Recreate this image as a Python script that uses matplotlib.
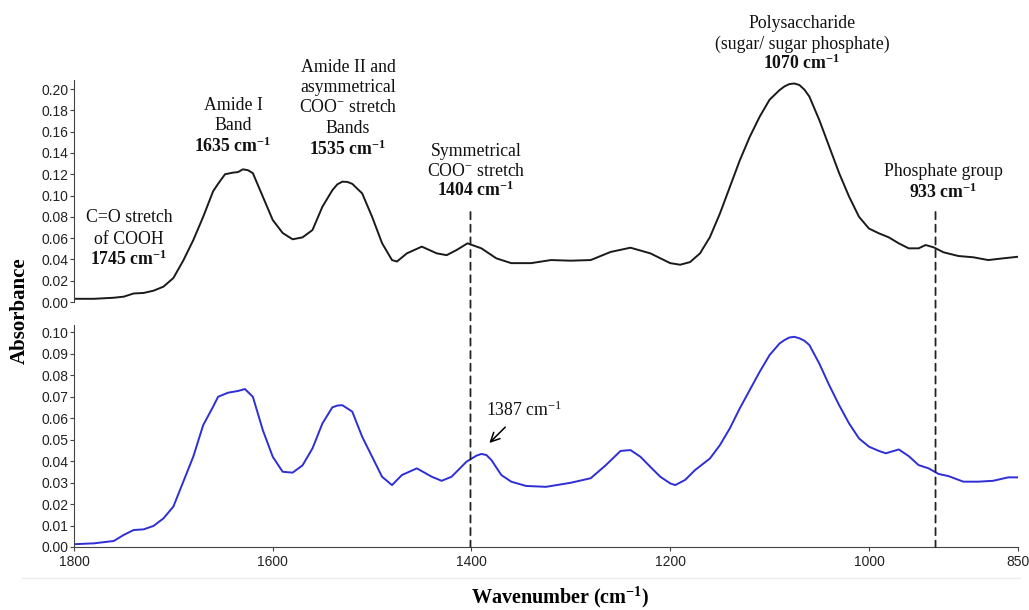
import numpy as np
import matplotlib.pyplot as plt
from matplotlib.patches import ConnectionPatch
from matplotlib.lines import Line2D

plt.rcParams['mathtext.fontset'] = 'custom'
plt.rcParams['mathtext.rm'] = 'Liberation Serif'
plt.rcParams['mathtext.it'] = 'Liberation Serif:italic'
plt.rcParams['mathtext.bf'] = 'Liberation Serif:bold'

# Spektrum oben (schwarz)
top_wn = [1800, 1780, 1760, 1750, 1740, 1730, 1720, 1710, 1700, 1690, 1680, 1670,
          1660, 1655, 1648, 1640, 1635, 1630, 1625, 1620, 1610, 1600, 1590, 1580,
          1570, 1560, 1550, 1540, 1535, 1530, 1525, 1520, 1510, 1500, 1490, 1480,
          1475, 1465, 1450, 1435, 1425, 1415, 1404, 1390, 1375, 1360, 1340, 1320,
          1300, 1280, 1260, 1240, 1220, 1200, 1190, 1180, 1170, 1160, 1150, 1140,
          1130, 1120, 1110, 1100, 1090, 1085, 1080, 1075, 1070, 1065, 1060, 1050,
          1040, 1030, 1020, 1010, 1000, 990, 980, 970, 960, 950, 943, 935, 925,
          910, 895, 880, 865, 850]
top_abs = [0.003, 0.003, 0.004, 0.005, 0.008, 0.0085, 0.0106, 0.0144, 0.0225, 0.039,
           0.058, 0.080, 0.104, 0.111, 0.120, 0.1215, 0.122, 0.1246, 0.1238, 0.121,
           0.099, 0.077, 0.0648, 0.0589, 0.0607, 0.0676, 0.0895, 0.105, 0.1105, 0.113,
           0.1128, 0.111, 0.102, 0.080, 0.0553, 0.0394, 0.038, 0.0457, 0.052, 0.0457,
           0.044, 0.0488, 0.0551, 0.0504, 0.041, 0.0365, 0.0365, 0.0394, 0.0388,
           0.0394, 0.047, 0.051, 0.0457, 0.0365, 0.035, 0.0375, 0.0457, 0.061, 0.083,
           0.108, 0.133, 0.155, 0.174, 0.190, 0.199, 0.2025, 0.2047, 0.2052, 0.2038,
           0.1995, 0.193, 0.171, 0.146, 0.121, 0.099, 0.080, 0.069, 0.0645, 0.0607,
           0.0551, 0.0504, 0.0504, 0.0535, 0.0514, 0.0467, 0.0432, 0.042, 0.0394,
           0.041, 0.0425]

# Spektrum unten (blau)
bottom_wn = [1800, 1780, 1760, 1750, 1740, 1730, 1720, 1710, 1700, 1690, 1680, 1670,
             1660, 1655, 1645, 1635, 1628, 1620, 1610, 1600, 1590, 1580, 1570, 1560,
             1550, 1540, 1535, 1530, 1520, 1510, 1500, 1490, 1480, 1470, 1455, 1440,
             1430, 1420, 1405, 1395, 1390, 1385, 1380, 1370, 1360, 1345, 1325, 1300,
             1280, 1265, 1250, 1240, 1230, 1220, 1210, 1200, 1195, 1185, 1175, 1160,
             1150, 1140, 1130, 1120, 1110, 1100, 1090, 1085, 1080, 1075, 1070, 1065,
             1060, 1050, 1040, 1030, 1020, 1010, 1000, 990, 983, 970, 960, 950, 940,
             930, 920, 905, 890, 875, 860, 850]
bottom_abs = [0.0013, 0.0017, 0.0028, 0.0056, 0.0079, 0.0082, 0.0098, 0.0133, 0.0188,
              0.0304, 0.042, 0.0567, 0.0653, 0.0699, 0.0718, 0.0726, 0.0735, 0.0699,
              0.0544, 0.042, 0.035, 0.0346, 0.038, 0.0459, 0.0575, 0.065, 0.0658,
              0.066, 0.063, 0.0513, 0.042, 0.0327, 0.0288, 0.0335, 0.0366, 0.0327,
              0.0308, 0.0327, 0.0397, 0.0425, 0.0433, 0.0428, 0.0405, 0.0335, 0.0304,
              0.0284, 0.028, 0.0299, 0.032, 0.038, 0.0447, 0.0451, 0.042, 0.0373,
              0.0327, 0.0296, 0.0288, 0.0312, 0.0358, 0.0412, 0.0474, 0.0552, 0.0645,
              0.073, 0.0815, 0.0893, 0.0947, 0.0963, 0.0975, 0.0978, 0.0971, 0.096,
              0.094, 0.0854, 0.0753, 0.066, 0.0575, 0.0505, 0.0467, 0.0447, 0.0436,
              0.0454, 0.0423, 0.0381, 0.0366, 0.034, 0.033, 0.0304, 0.0304, 0.0308,
              0.0324, 0.0324]

top_yticks = np.arange(0, 0.201, 0.02)
bottom_yticks = np.arange(0, 0.101, 0.01)
xticks = [1800, 1600, 1400, 1200, 1000, 850]

# Markierte Banden (gestrichelte Linien)
marker_wn = [1401, 933]
marker_top = 0.0845

# Beschriftungen: (x px, [y px], Zeilen)
labels = [
    (129, [218, 239, 259], ['C=O stretch', 'of COOH', r'$\mathbf{1745\ cm^{-1}}$']),
    (233, [105, 126, 146], ['Amide I', 'Band', r'$\mathbf{1635\ cm^{-1}}$']),
    (348, [67, 88, 108, 128, 149], ['Amide II and', 'asymmetrical', r'COO$^{-}$ stretch',
                                    'Bands', r'$\mathbf{1535\ cm^{-1}}$']),
    (476, [151, 171, 190], ['Symmetrical', r'COO$^{-}$ stretch', r'$\mathbf{1404\ cm^{-1}}$']),
    (802, [23, 44, 63], ['Polysaccharide', '(sugar/ sugar phosphate)', r'$\mathbf{1070\ cm^{-1}}$']),
    (943, [172, 192], ['Phosphate group', r'$\mathbf{933\ cm^{-1}}$']),
]

W, H = 1029, 610
fig = plt.figure(figsize=(W / 100, H / 100), dpi=100)
ax1 = fig.add_axes([74 / W, 1 - 302 / H, 944 / W, 222 / H])
ax2 = fig.add_axes([74 / W, 1 - 547 / H, 944 / W, 222 / H])

ax1.plot(top_wn, top_abs, color='#1a1a1a', lw=1.4)
ax2.plot(bottom_wn, bottom_abs, color='#2e2ed6', lw=1.4)

for ax in (ax1, ax2):
    ax.set_xlim(1800, 850)
    for s in ('top', 'right'):
        ax.spines[s].set_visible(False)
    ax.spines['left'].set_color('#444444')
    ax.spines['bottom'].set_color('#444444')
    ax.tick_params(length=3, width=0.8, color='#444444', labelsize=10, pad=1,
                   labelcolor='#222222')

ax1.set_ylim(0, 0.2085)
ax1.set_yticks(top_yticks)
ax1.set_yticklabels([f'{v:.2f}' for v in top_yticks], family='Liberation Sans')
ax1.spines['bottom'].set_visible(False)
ax1.set_xticks([])

ax2.set_ylim(0, 0.1033)
ax2.set_yticks(bottom_yticks)
ax2.set_yticklabels([f'{v:.2f}' for v in bottom_yticks], family='Liberation Sans')
ax2.set_xticks(xticks)
ax2.set_xticklabels([str(v) for v in xticks], family='Liberation Sans')
ax2.tick_params(axis='x', pad=3)

# gestrichelte Linien über beide Panels
for wn in marker_wn:
    con = ConnectionPatch(xyA=(wn, marker_top), coordsA=ax1.transData,
                          xyB=(wn, 0), coordsB=ax2.transData,
                          linestyle=(0, (4, 3)), lw=1.3, color='#222222')
    fig.add_artist(con)

for xp, yps, lines in labels:
    for yp, s in zip(yps, lines):
        fig.text(xp / W, 1 - yp / H, s, ha='center', va='center',
                 family='Liberation Serif', fontsize=12.8, color='#111111')

# Pfeil 1387
ax2.annotate('', xy=(1382, 0.0484), xytext=(1366, 0.0558),
             arrowprops=dict(arrowstyle='->', color='black', lw=1.1,
                             mutation_scale=16, shrinkA=0, shrinkB=0))
ax2.text(1347, 0.0637, r'1387 cm$^{-1}$', ha='center', va='center',
         family='Liberation Serif', fontsize=12.8, color='#111111')

fig.text(20 / W, 1 - 311 / H, 'Absorbance', rotation=90, ha='center', va='center',
         family='Liberation Serif', fontweight='bold', fontsize=15)
fig.text(560 / W, 1 - 597 / H, r'$\mathbf{Wavenumber\ (cm^{-1})}$', ha='center',
         va='center', fontsize=14.5)

fig.add_artist(Line2D([22 / W, 1020 / W], [1 - 578 / H] * 2, color='#ececec', lw=1))

fig.savefig('out.png', dpi=100)
